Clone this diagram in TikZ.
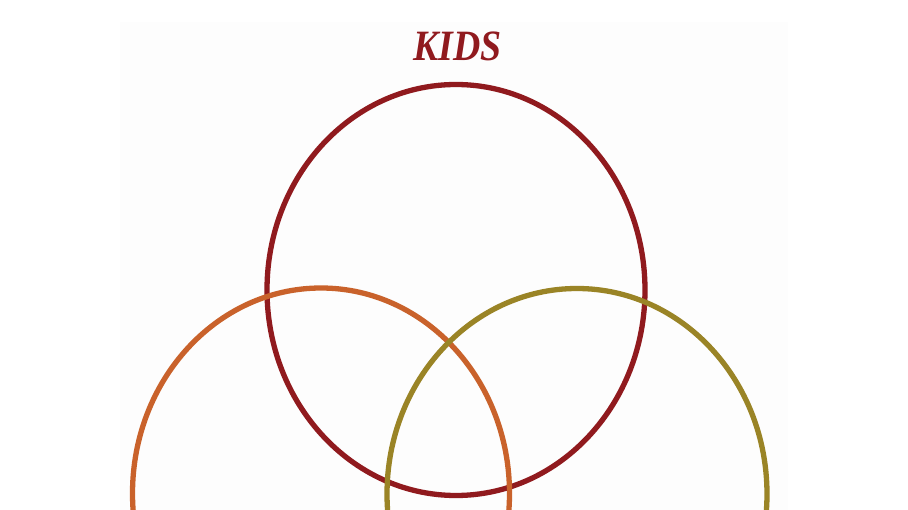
\documentclass[tikz,border=0pt]{standalone}
\usepackage{fontspec}
\setmainfont{Liberation Serif}
\definecolor{kidsred}{HTML}{901A1E}
\definecolor{ringorange}{HTML}{C9622B}
\definecolor{ringolive}{HTML}{9A8426}
\definecolor{panel}{HTML}{FDFDFD}
\begin{document}
\begin{tikzpicture}[x=1pt,y=-1pt,
  ring/.style={line width=5.3pt}]
\useasboundingbox (0,0) rectangle (908,510);
\clip (0,0) rectangle (908,510);
\fill[white] (0,0) rectangle (908,510);
\fill[panel] (120,22) rectangle (788,510);
\node[anchor=base, text=kidsred, font=\fontsize{42}{42}\selectfont\bfseries\itshape, xscale=0.9, yscale=1.03, inner sep=0pt] (title) at (457.5,61) {KIDS};
\draw[ring, kidsred] (456,290) ellipse [x radius=189, y radius=205.5];
\draw[ring, ringorange] (321,493.5) ellipse [x radius=188.5, y radius=205.5];
\draw[ring, ringolive] (577,494) ellipse [x radius=190, y radius=205.5];
\end{tikzpicture}
\end{document}
